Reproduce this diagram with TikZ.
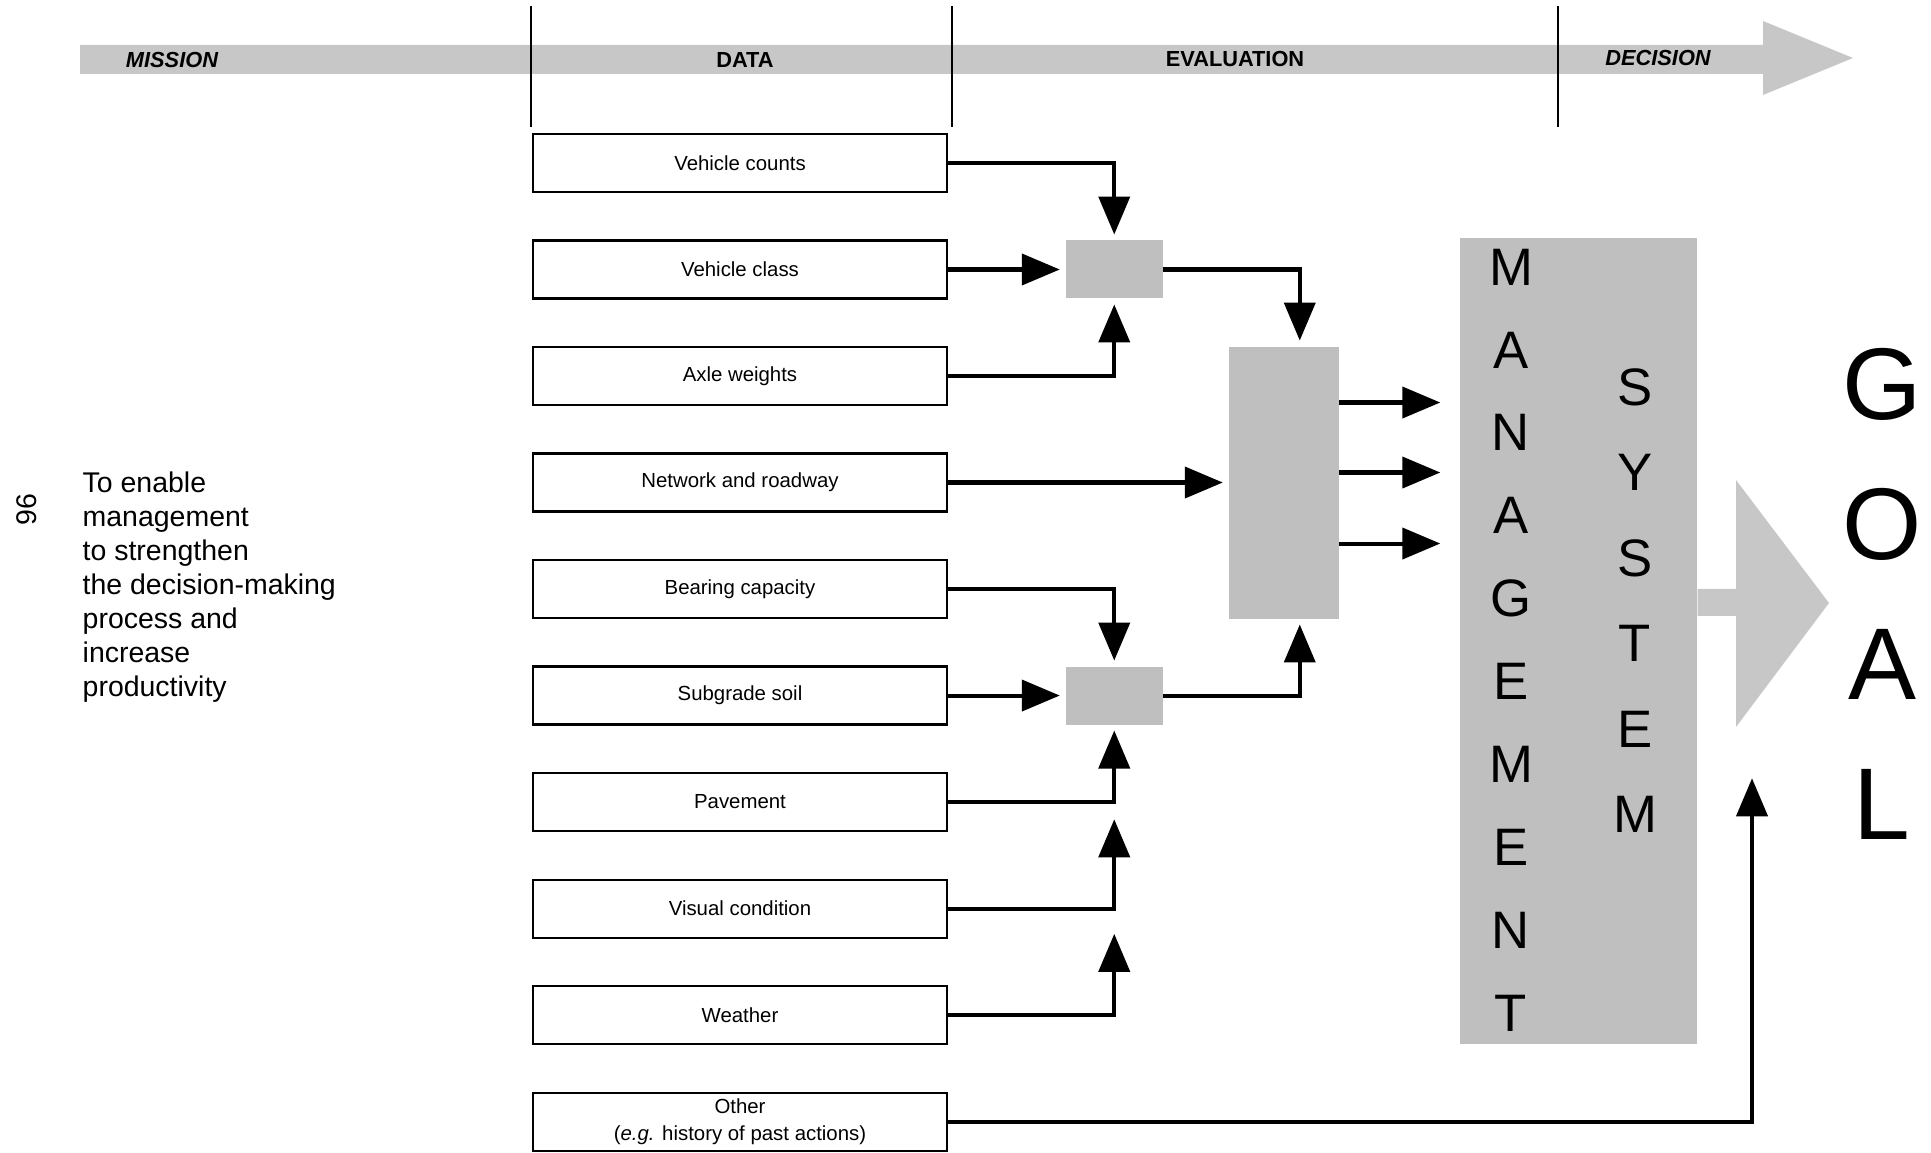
\documentclass[tikz,border=0pt]{standalone}
\usepackage{fontspec}
\setmainfont{Liberation Sans}
\usetikzlibrary{positioning, arrows.meta}
\usetikzlibrary{calc}

\begin{document}
\begin{tikzpicture}[>={Triangle[length=0.38cm, width=0.31cm]},
    node distance=0.464cm,
    datbox/.style={draw, rectangle, line width=0.6pt, minimum width=4.14cm, minimum height=0.58cm, inner sep=0.5pt, align=center, font=\fontsize{5.8}{7.6}\selectfont},
    shade/.style={fill=black!25, inner sep=0pt},
    head/.style={font=\fontsize{6.2}{7}\selectfont\bfseries},
    msletter/.style={font=\fontsize{15}{15}\selectfont},
    goalletter/.style={font=\fontsize{29}{29}\selectfont},
    flow/.style={->, line width=1.15pt, shorten >=1.5pt},
]
\useasboundingbox (0,0) rectangle (19.31,-11.53);

% Band arrow at the top
\fill[black!22] (0.80,-0.45) -- (17.63,-0.45) -- (17.63,-0.21) -- (18.53,-0.58)
    -- (17.63,-0.95) -- (17.63,-0.74) -- (0.80,-0.74) -- cycle;
\foreach \x in {5.31, 9.52, 15.58}
    \draw[line width=0.6pt] (\x,-0.06) -- (\x,-1.27);
\node (mission) [head] at (1.72,-0.60) {\itshape MISSION};
\node (data) [head] at (7.45,-0.60) {DATA};
\node (eval) [head] at (12.35,-0.59) {EVALUATION};
\node (decision) [head] at (16.58,-0.58) {\itshape DECISION};

% Page number and mission text
\node (page) [rotate=90, font=\fontsize{8.1}{9.7}\selectfont] at (0.27,-5.10) {96};
\node (aim) [anchor=base west, inner sep=0pt, align=left, font=\fontsize{8.1}{9.7}\selectfont] at (0.82,-6.97)
    {To enable\\management\\to strengthen\\the decision-making\\process and\\increase\\productivity};

% Data boxes
\node (vc) [datbox] at (7.40,-1.63) {Vehicle counts};
\node (vcl) [datbox, below=of vc] {Vehicle class};
\node (ax) [datbox, below=of vcl] {Axle weights};
\node (nr) [datbox, below=of ax] {Network and roadway};
\node (bc) [datbox, below=of nr] {Bearing capacity};
\node (ss) [datbox, below=of bc] {Subgrade soil};
\node (pav) [datbox, below=of ss] {Pavement};
\node (vis) [datbox, below=of pav] {Visual condition};
\node (wea) [datbox, below=of vis] {Weather};
\node (oth) [datbox, below=of wea] {Other\\(\textit{e.g.} history of past actions)};

% Evaluation boxes
\node (sb1) [shade, minimum width=0.97cm, minimum height=0.58cm, right=1.17cm of vcl] {};
\node (sb2) [shade, minimum width=0.97cm, minimum height=0.58cm, right=1.17cm of ss] {};
\node (bb) [shade, minimum width=1.10cm, minimum height=2.72cm, right=2.80cm of nr] {};

% Management system
\node (ms) [shade, minimum width=2.37cm, minimum height=8.06cm] at (15.785,-6.41) {};
\foreach \l [count=\i from 0] in {M,A,N,A,G,E,M,E,N,T}
    \node (m\i) [msletter] at (15.11,-2.67-0.829*\i) {\l};
\foreach \l [count=\i from 0] in {S,Y,S,T,E,M}
    \node (s\i) [msletter] at (16.35,-3.87-0.855*\i) {\l};

% Goal
\fill[black!22] (ms.east |- 0,-5.89) -- (17.36,-5.89) -- (17.36,-4.80) -- (18.29,-6.03)
    -- (17.36,-7.27) -- (17.36,-6.16) -- (ms.east |- 0,-6.16) -- cycle;
\foreach \l [count=\i from 0] in {G,O,A,L}
    \node (g\i) [goalletter] at (18.82,-3.84-1.40*\i) {\l};

% Connection arrows
\draw[flow] (vc) -| (sb1);
\draw[flow] (vcl) -- (sb1);
\draw[flow] (ax) -| (sb1);
\draw[flow] (nr) -- (bb);
\draw[flow] (bc) -| (sb2);
\draw[flow] (ss) -- (sb2);
\draw[flow] (pav) -| (sb2);
\coordinate (visend) at ($(pav.east -| sb2)+(0,-0.12)$);
\coordinate (weaend) at ($(vis.east -| sb2)+(0,-0.20)$);
\draw[flow] (vis) -| (visend);
\draw[flow] (wea) -| (weaend);
\draw[flow] (sb1) -| ([xshift=0.16cm]bb.north);
\draw[flow] (sb2) -| ([xshift=0.16cm]bb.south);
\foreach \dy in {0.80, 0.10, -0.61}
    \draw[flow, shorten >=0.19cm] ([yshift=\dy cm]bb.east) -- ([yshift=\dy cm]bb.east -| ms.west);
\coordinate (goalin) at (17.52,-7.73);
\draw[flow] (oth) -| (goalin);

\end{tikzpicture}
\end{document}
